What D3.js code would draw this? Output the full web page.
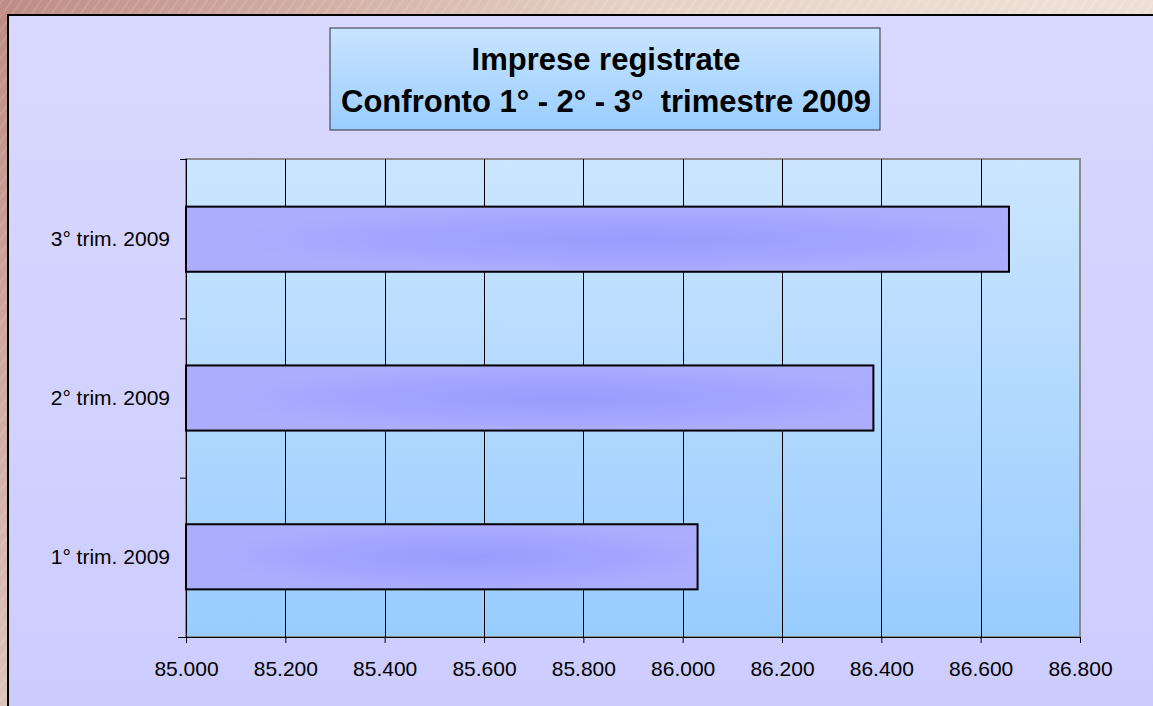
<!DOCTYPE html>
<html>
<head>
<meta charset="utf-8">
<script src="https://cdn.jsdelivr.net/npm/d3@7"></script>
<style>
  body { margin: 0; padding: 0; overflow: hidden; }
  text { font-family: "Liberation Sans", Arial, sans-serif; }
</style>
</head>
<body>
<div id="chart"></div>
<script>
// Data
var categories = ["1° trim. 2009", "2° trim. 2009", "3° trim. 2009"];
var values = [86.030, 86.384, 86.657];
var xTicks = [85.0, 85.2, 85.4, 85.6, 85.8, 86.0, 86.2, 86.4, 86.6, 86.8];
var titleLines = ["Imprese registrate", "Confronto 1° - 2° - 3°  trimestre 2009"];

var W = 1153, H = 706;
var plot = {left: 186, right: 1080, top: 159, bottom: 637};

var svg = d3.select("div#chart").append("svg")
    .attr("width", W)
    .attr("height", H);

var defs = svg.append("defs");

// background gradient + stripes
var bgGrad = defs.append("linearGradient")
    .attr("id", "bgGrad")
    .attr("gradientUnits", "userSpaceOnUse")
    .attr("x1", 0).attr("y1", 0).attr("x2", 700).attr("y2", 500);
bgGrad.append("stop").attr("offset", 0).attr("stop-color", "#be8b85");
bgGrad.append("stop").attr("offset", 0.6).attr("stop-color", "#e6d2c6");
bgGrad.append("stop").attr("offset", 1).attr("stop-color", "#eddfd5");

var stripes = defs.append("pattern")
    .attr("id", "stripes")
    .attr("patternUnits", "userSpaceOnUse")
    .attr("width", 8).attr("height", 8)
    .attr("patternTransform", "rotate(35)");
stripes.append("line")
    .attr("x1", 2).attr("y1", 0).attr("x2", 2).attr("y2", 8)
    .attr("stroke", "#ffffff").attr("stroke-opacity", 0.22).attr("stroke-width", 1);

// chart area gradient
var areaGrad = defs.append("linearGradient")
    .attr("id", "areaGrad").attr("x1", 0).attr("y1", 0).attr("x2", 0).attr("y2", 1);
areaGrad.append("stop").attr("offset", 0).attr("stop-color", "#d9d8ff");
areaGrad.append("stop").attr("offset", 1).attr("stop-color", "#ccccff");

// plot area / title box gradient
var plotGrad = defs.append("linearGradient")
    .attr("id", "plotGrad").attr("x1", 0).attr("y1", 0).attr("x2", 0).attr("y2", 1);
plotGrad.append("stop").attr("offset", 0).attr("stop-color", "#cce6ff");
plotGrad.append("stop").attr("offset", 1).attr("stop-color", "#99ccff");

var titleGrad = defs.append("linearGradient")
    .attr("id", "titleGrad").attr("x1", 0).attr("y1", 0).attr("x2", 0).attr("y2", 1);
titleGrad.append("stop").attr("offset", 0).attr("stop-color", "#c9e4ff");
titleGrad.append("stop").attr("offset", 1).attr("stop-color", "#9acdff");

// bar gradient - darker blob in the middle
var barGrad = defs.append("radialGradient")
    .attr("id", "barGrad")
    .attr("cx", 0.55).attr("cy", 0.5).attr("r", 0.5);
barGrad.append("stop").attr("offset", 0).attr("stop-color", "#9b9bff");
barGrad.append("stop").attr("offset", 0.6).attr("stop-color", "#a4a4ff");
barGrad.append("stop").attr("offset", 1).attr("stop-color", "#adadff");

// Background
svg.append("rect").attr("width", W).attr("height", H).attr("fill", "url(#bgGrad)");
svg.append("rect").attr("width", W).attr("height", H).attr("fill", "url(#stripes)");

// chart area frame
svg.append("rect")
    .attr("x", 8).attr("y", 15)
    .attr("width", W).attr("height", H)
    .attr("fill", "url(#areaGrad)")
    .attr("stroke", "#000")
    .attr("stroke-width", 2);

// Scales
var xScale = d3.scaleLinear()
    .domain([85.0, 86.8])
    .range([plot.left, plot.right]);

var yScale = d3.scaleBand()
    .domain(categories.slice().reverse())
    .range([plot.top, plot.bottom])
    .paddingInner(0.59)
    .paddingOuter(0.3);

var yEdge = d3.scaleLinear()
    .domain([0, categories.length])
    .range([plot.bottom, plot.top]);

// plot area
svg.append("rect")
    .attr("x", plot.left).attr("y", plot.top)
    .attr("width", plot.right - plot.left)
    .attr("height", plot.bottom - plot.top)
    .attr("fill", "url(#plotGrad)")
    .attr("stroke", "#8a8a8a")
    .attr("stroke-width", 2);

// gridlines
svg.append("g")
    .selectAll("line")
    .data(xTicks.slice(1, -1))
    .enter().append("line")
    .attr("x1", function(d) { return Math.round(xScale(d)) + 0.5; })
    .attr("x2", function(d) { return Math.round(xScale(d)) + 0.5; })
    .attr("y1", plot.top)
    .attr("y2", plot.bottom)
    .attr("stroke", "#000")
    .attr("stroke-width", 1);

// bars
svg.append("g")
    .selectAll("rect")
    .data(values)
    .enter().append("rect")
    .attr("x", xScale(85.0))
    .attr("y", function(d, i) { return yScale(categories[i]); })
    .attr("width", function(d) { return xScale(d) - xScale(85.0); })
    .attr("height", yScale.bandwidth())
    .attr("fill", "url(#barGrad)")
    .attr("stroke", "#000")
    .attr("stroke-width", 2);

// x axis
var xAxis = d3.axisBottom(xScale)
    .tickValues(xTicks)
    .tickSize(6)
    .tickPadding(18)
    .tickFormat(d3.format(".3f"));

var gx = svg.append("g")
    .attr("transform", "translate(0," + plot.bottom + ")")
    .call(xAxis);
gx.select(".domain").attr("d", "M" + (plot.left - 8) + ",0.5H" + plot.right);
gx.selectAll("text").attr("font-size", "21px").attr("fill", "#000")
    .style("font-family", "'Liberation Sans', Arial, sans-serif");

// y axis - boundary ticks
var gy = svg.append("g")
    .attr("transform", "translate(" + plot.left + ",0)")
    .call(d3.axisLeft(yEdge).tickValues([0, 1, 2, 3]).tickSize(6).tickFormat(""));
gy.select(".domain").attr("d", "M0.5," + plot.top + "V" + plot.bottom);

// y axis - category labels
var gyl = svg.append("g")
    .attr("transform", "translate(" + plot.left + ",0)")
    .call(d3.axisLeft(yScale).tickSize(0).tickPadding(16));
gyl.select(".domain").remove();
gyl.selectAll("text").attr("font-size", "21px").attr("fill", "#000")
    .style("font-family", "'Liberation Sans', Arial, sans-serif");

// title box
svg.append("rect")
    .attr("x", 330).attr("y", 28)
    .attr("width", 550).attr("height", 102)
    .attr("fill", "url(#titleGrad)")
    .attr("stroke", "#333")
    .attr("stroke-width", 1);

svg.append("g")
    .selectAll("text")
    .data(titleLines)
    .enter().append("text")
    .attr("x", 606)
    .attr("y", function(d, i) { return 70 + i * 42; })
    .attr("text-anchor", "middle")
    .attr("font-size", "31px")
    .attr("font-weight", "bold")
    .attr("fill", "#000")
    .style("white-space", "pre")
    .text(function(d) { return d; });
</script>
</body>
</html>
